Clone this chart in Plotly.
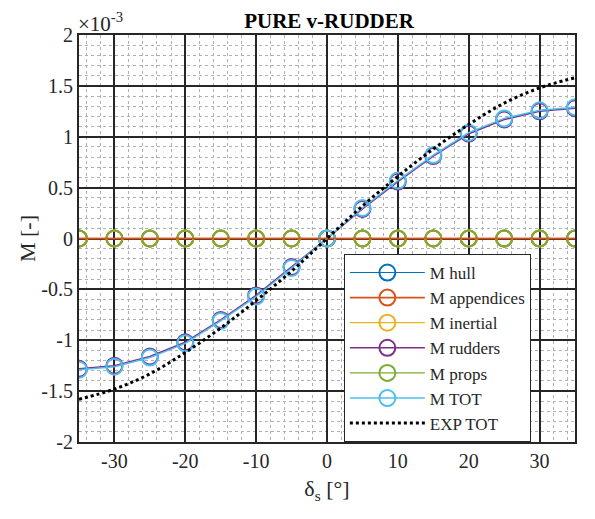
import plotly.graph_objects as go

delta = [-35, -30, -25, -20, -15, -10, -5, 0, 5, 10, 15, 20, 25, 30, 35]
m_zero = [0.0] * len(delta)
m_tot = [-1.29e-3, -1.26e-3, -1.17e-3, -1.03e-3, -0.81e-3, -0.57e-3, -0.29e-3, 0.0,
         0.30e-3, 0.57e-3, 0.82e-3, 1.04e-3, 1.18e-3, 1.26e-3, 1.29e-3]
m_rudders = [-1.28e-3, -1.25e-3, -1.16e-3, -1.02e-3, -0.80e-3, -0.56e-3, -0.28e-3, 0.0,
             0.29e-3, 0.56e-3, 0.81e-3, 1.03e-3, 1.17e-3, 1.25e-3, 1.28e-3]
exp_delta = [-35, -30, -25, -20, -15, -10, -5, 0, 5, 10, 15, 20, 25, 30, 35]
exp_tot = [-1.58e-3, -1.48e-3, -1.33e-3, -1.12e-3, -0.88e-3, -0.61e-3, -0.32e-3, 0.0,
           0.32e-3, 0.61e-3, 0.88e-3, 1.12e-3, 1.33e-3, 1.48e-3, 1.58e-3]

y_ticks = [-2e-3, -1.5e-3, -1e-3, -0.5e-3, 0, 0.5e-3, 1e-3, 1.5e-3, 2e-3]
y_labels = ["-2", "-1.5", "-1", "-0.5", "0", "0.5", "1", "1.5", "2"]
x_ticks = [-30, -20, -10, 0, 10, 20, 30]
x_labels = ["-30", "-20", "-10", "0", "10", "20", "30"]

series = [
    ("M hull", m_zero, "#0072BD", 1.2),
    ("M appendices", m_zero, "#D95319", 1.6),
    ("M inertial", m_zero, "#EDB120", 1.2),
    ("M rudders", m_rudders, "#7E2F8E", 1.6),
    ("M props", m_zero, "#77AC30", 1.2),
    ("M TOT", m_tot, "#4DBEEE", 1.4),
]

FONT = "Liberation Serif, Times New Roman, serif"
TXT = "#262626"
fig = go.Figure()
for name, vals, col, w in series:
    fig.add_trace(go.Scatter(
        x=delta, y=vals, name=name, mode="lines+markers",
        line=dict(color=col, width=w),
        marker=dict(symbol="circle-open", size=16, color=col, line=dict(width=2, color=col)),
    ))
# the appendices line shows on top of the zero-valued traces in the reference
fig.add_trace(go.Scatter(x=delta, y=m_zero, mode="lines", showlegend=False, hoverinfo="skip",
                         line=dict(color="#D95319", width=1.6)))
fig.add_trace(go.Scatter(
    x=exp_delta, y=exp_tot, name="EXP TOT", mode="lines",
    line=dict(color="black", width=3, dash="dot", shape="spline"),
))

# The page body has an 8px margin; the figure is sized to fit the 595x519 window.
fig.update_layout(
    width=587, height=511,
    margin=dict(l=71, r=20, t=27, b=77),
    paper_bgcolor="white", plot_bgcolor="white",
    font=dict(family=FONT, size=19, color=TXT),
    title=dict(text="<b>PURE v-RUDDER</b>", x=0.547, xanchor="center", y=0.976, yanchor="middle",
               font=dict(family=FONT, size=21, color="black")),
    showlegend=True,
    legend=dict(x=0.534, y=0.462, xanchor="left", yanchor="top",
                bgcolor="white", bordercolor=TXT, borderwidth=1,
                font=dict(family=FONT, size=17, color=TXT),
                tracegroupgap=0, itemwidth=75),
    xaxis=dict(range=[-35, 35], tickvals=x_ticks, ticktext=x_labels,
               showgrid=True, gridcolor=TXT, gridwidth=2,
               zeroline=False, showline=True, linecolor=TXT, linewidth=2, mirror=True,
               ticks="", tickfont=dict(family=FONT, size=20, color=TXT),
               title=dict(text="δ<sub>s</sub> [°]", font=dict(family=FONT, size=22, color=TXT), standoff=10),
               minor=dict(dtick=2, showgrid=True, gridcolor="#b0b0b0", griddash="dot", gridwidth=1)),
    yaxis=dict(range=[-2e-3, 2e-3], tickvals=y_ticks, ticktext=y_labels,
               showgrid=True, gridcolor=TXT, gridwidth=2,
               zeroline=False, showline=True, linecolor=TXT, linewidth=2, mirror=True,
               ticks="", tickfont=dict(family=FONT, size=20, color=TXT),
               title=dict(text="M [-]", font=dict(family=FONT, size=22, color=TXT), standoff=0),
               minor=dict(dtick=1e-4, tick0=0, showgrid=True, gridcolor="#b0b0b0", griddash="dot", gridwidth=1)),
)
fig.add_annotation(text="×10<sup>-3</sup>", xref="paper", yref="paper", x=0.0, y=1.0,
                   xanchor="left", yanchor="bottom", showarrow=False, yshift=-3, xshift=-3,
                   font=dict(family=FONT, size=21, color=TXT))
fig.write_html("out.html")
